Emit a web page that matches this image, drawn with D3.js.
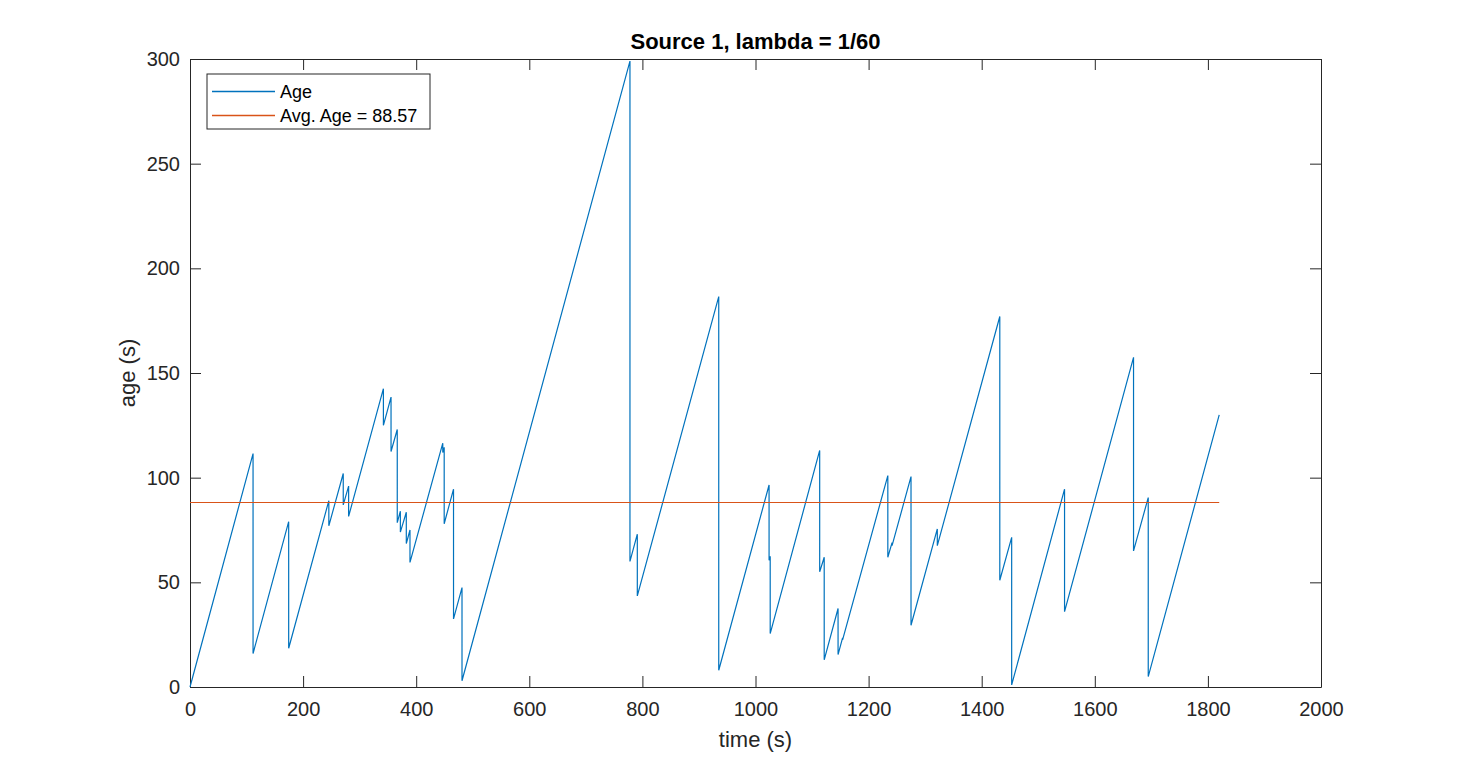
<!DOCTYPE html>
<html>
<head>
<meta charset="utf-8">
<script src="https://cdn.jsdelivr.net/npm/d3@7"></script>
<style>
  body { margin: 0; background: #fff; }
  text { font-family: "Liberation Sans", Arial, sans-serif; fill: #262626; }
</style>
</head>
<body>
<div id="plotDiv"></div>
<script>
// vertices of the age curve (drops are vertical: same time twice)
var time = [0,
    111.5, 111.5, 174.5, 174.5, 245.5, 245.5, 271, 271, 280.5, 280.5,
    342, 342, 355.5, 355.5, 366.5, 366.5, 372, 372, 382.5, 382.5, 389, 389,
    447, 447, 449.5, 449.5, 466, 466, 481, 481,
    778, 778, 791, 791, 935, 935,
    1024, 1024, 1026, 1026, 1113.5, 1113.5, 1121.5, 1121.5, 1146, 1146, 1154, 1154,
    1234, 1234, 1241.5, 1241.5, 1275, 1275, 1321.5, 1321.5,
    1432, 1432, 1453, 1453, 1546.5, 1546.5, 1668.5, 1668.5, 1694.5, 1694.5,
    1820];
var age = [0,
    111.5, 16, 79, 18.5, 89, 77, 102, 87, 96, 81.5,
    142.5, 125, 138.5, 112.5, 123, 78.5, 84, 74, 83.5, 68.5, 75, 59.5,
    116.5, 112, 114.5, 78, 94.5, 32.5, 47.5, 3,
    299, 60, 73, 43.5, 186.5, 8,
    96.5, 60.5, 62.5, 25.5, 113, 55, 62, 13, 37.5, 15.5, 23.5, 22.5,
    101, 62, 69, 67.5, 100.5, 29.5, 75.5, 67.5,
    177, 51, 71.5, 1, 94.5, 36, 157.5, 65, 90.5, 5,
    130];

var avgAge = 88.57;
var avgRange = [0, 1820];

var xTicks = [0, 200, 400, 600, 800, 1000, 1200, 1400, 1600, 1800, 2000];
var yTicks = [0, 50, 100, 150, 200, 250, 300];

var legendLabels = ["Age", "Avg. Age = " + avgAge];

drawChart();

function drawChart() {
    var margin = { top: 59, right: 140, bottom: 85, left: 190 };
    var fullW = 1461, fullH = 772;
    var width = fullW - margin.left - margin.right;
    var height = fullH - margin.top - margin.bottom;
    var axisColor = "#262626";
    var blue = "#0072BD", orange = "#D95319";

    var svg = d3.select("#plotDiv").append("svg")
        .attr("width", fullW)
        .attr("height", fullH);
    var g = svg.append("g").attr("transform", "translate(" + margin.left + "," + margin.top + ")");

    var xScale = d3.scaleLinear().domain([0, 2000]).range([0, width]);
    var yScale = d3.scaleLinear().domain([0, 300]).range([height, 0]);

    var tickLen = 11;
    var fmt = d3.format("d");
    var xAxis = d3.axisBottom(xScale).tickValues(xTicks).tickFormat(fmt).tickSizeInner(-tickLen).tickSizeOuter(0).tickPadding(17);
    var yAxis = d3.axisLeft(yScale).tickValues(yTicks).tickFormat(fmt).tickSizeInner(-tickLen).tickSizeOuter(0).tickPadding(10);
    var xTop = d3.axisTop(xScale).tickValues(xTicks).tickSizeInner(-tickLen).tickSizeOuter(0).tickFormat("");
    var yRight = d3.axisRight(yScale).tickValues(yTicks).tickSizeInner(-tickLen).tickSizeOuter(0).tickFormat("");

    var gx = g.append("g").attr("transform", "translate(0," + height + ")").call(xAxis);
    var gy = g.append("g").call(yAxis);
    var gt = g.append("g").call(xTop);
    var gr = g.append("g").attr("transform", "translate(" + width + ",0)").call(yRight);

    [gx, gy, gt, gr].forEach(function (a) {
        a.select(".domain").attr("stroke", axisColor).attr("stroke-width", 1);
        a.selectAll(".tick line").attr("stroke", axisColor).attr("stroke-width", 1);
        a.selectAll(".tick text").attr("fill", axisColor)
            .style("font-size", "20px").style("font-family", "'Liberation Sans', Arial, sans-serif");
    });
    gx.selectAll(".tick text").attr("dy", "0.6em");

    // age sawtooth
    var points = time.map(function (t, i) { return [t, age[i]]; });
    var line = d3.line()
        .x(function (d) { return xScale(d[0]); })
        .y(function (d) { return yScale(d[1]); });

    g.append("path").datum(points)
        .attr("fill", "none")
        .attr("stroke", blue)
        .attr("stroke-width", 1.2)
        .attr("stroke-linejoin", "miter")
        .attr("d", line);

    // average line
    var yAvg = Math.round(yScale(avgAge)) + 0.5;
    g.append("line")
        .attr("x1", xScale(avgRange[0])).attr("x2", xScale(avgRange[1]))
        .attr("y1", yAvg).attr("y2", yAvg)
        .attr("stroke", orange).attr("stroke-width", 1.2);

    // title and axis labels
    svg.append("text")
        .attr("x", margin.left + width / 2).attr("y", 48.5)
        .attr("text-anchor", "middle")
        .style("font-size", "22px").style("font-weight", "bold").style("fill", "#000")
        .text("Source 1, lambda = 1/60");

    svg.append("text")
        .attr("x", margin.left + width / 2).attr("y", 747)
        .attr("text-anchor", "middle")
        .style("font-size", "22px")
        .text("time (s)");

    svg.append("text")
        .attr("transform", "translate(135," + (margin.top + height / 2) + ") rotate(-90)")
        .attr("text-anchor", "middle")
        .style("font-size", "22px")
        .text("age (s)");

    // legend
    var lg = g.append("g").attr("transform", "translate(17,15)");
    lg.append("rect")
        .attr("width", 223).attr("height", 55)
        .attr("fill", "#fff").attr("stroke", axisColor).attr("stroke-width", 1);
    var colors = [blue, orange];
    legendLabels.forEach(function (lab, i) {
        var yy = 17.5 + i * 24;
        lg.append("rect")
            .attr("x", 5).attr("y", yy - 0.75)
            .attr("width", 63).attr("height", 1.5)
            .attr("fill", colors[i]);
        lg.append("text")
            .attr("x", 73).attr("y", yy)
            .attr("dy", "0.35em")
            .style("font-size", "18px").style("fill", "#000")
            .text(lab);
    });
}
</script>
</body>
</html>
